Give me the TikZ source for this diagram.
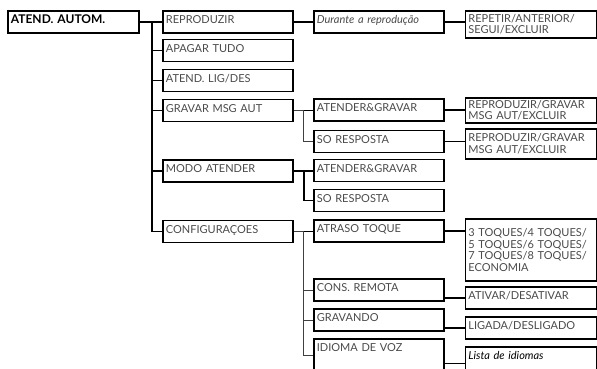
\documentclass[tikz,border=0pt]{standalone}
\usepackage{fontspec}
\setmainfont{Lato}
\definecolor{txtgrey}{HTML}{4A4A4A}

\begin{document}
\begin{tikzpicture}[x=1pt, y=-1pt,
    cell/.style={draw, line width=1.8pt, anchor=north west, inner xsep=3pt, inner ysep=0pt, align=left, text=txtgrey, font=\fontsize{11}{11.5}\selectfont},
    one/.style={cell, text width=#1, text height=13pt, text depth=9pt},
    multi/.style={cell, text width=125pt, minimum height=#1},
    link/.style={line width=1.8pt},
    thinlink/.style={line width=0.8pt, draw=black!75}]
    \useasboundingbox (0,0) rectangle (597,368);
    \clip (0,0) rectangle (597,368);
    \node[one=125pt, text=black, font=\fontsize{12}{12}\selectfont\bfseries] (root) at (7,10) {ATEND. AUTOM.};
    \node[one=124pt] (rep) at (162,10) {REPRODUZIR};
    \node[one=124pt] (apg) at (162,38.5) {APAGAR TUDO};
    \node[one=124pt] (lig) at (162,68.5) {ATEND. LIG/DES};
    \node[one=124pt] (grv) at (162,98.5) {GRAVAR MSG AUT};
    \node[one=124pt] (modo) at (162,159) {MODO ATENDER};
    \node[one=124pt] (cfg) at (162,219.5) {CONFIGURAÇOES};
    \node[one=124pt, font=\fontsize{11}{12}\selectfont\itshape] (dur) at (313,10) {Durante a reprodução};
    \node[one=124pt] (ag1) at (313,98) {ATENDER\&GRAVAR};
    \node[one=124pt] (so1) at (313,129.5) {SO RESPOSTA};
    \node[one=124pt] (ag2) at (313,158.5) {ATENDER\&GRAVAR};
    \node[one=124pt] (so2) at (313,188.5) {SO RESPOSTA};
    \node[one=124pt] (atr) at (313,219) {ATRASO TOQUE};
    \node[one=124pt] (cons) at (313,278) {CONS. REMOTA};
    \node[one=124pt] (grav) at (313,308) {GRAVANDO};
    \node[one=124pt, text depth=20pt] (idi) at (313,338) {IDIOMA DE VOZ};
    \node[multi=27pt] (rpt) at (464.5,10) {REPETIR/ANTERIOR/\\SEGUI/EXCLUIR};
    \node[multi=25pt] (rg1) at (464.5,97) {REPRODUZIR/GRAVAR\\MSG AUT/EXCLUIR};
    \node[multi=30pt] (rg2) at (464.5,128) {REPRODUZIR/GRAVAR\\MSG AUT/EXCLUIR};
    \node[multi=62pt] (toq) at (464.5,218) {3 TOQUES/4 TOQUES/\\5 TOQUES/6 TOQUES/\\7 TOQUES/8 TOQUES/\\ECONOMIA};
    \node[one=125pt] (atv) at (464.5,286) {ATIVAR/DESATIVAR};
    \node[one=125pt] (lgd) at (464.5,316) {LIGADA/DESLIGADO};
    \node[one=125pt, text depth=20pt, text=black, font=\fontsize{11}{12}\selectfont\itshape] (lst) at (464.5,346) {Lista de idiomas};
    \draw[link] (root.east) -- (rep.west);
    \foreach \n in {apg,lig,grv,modo,cfg}
        \draw[link] (root.east) -- ++(12,0) |- (\n.west);
    \draw[link] (rep.east) -- (rep.east -| dur.west);
    \draw[link] (grv.east) -- (grv.east -| ag1.west);
    \draw[thinlink] (grv.east) -- ++(10,0) |- (so1.west);
    \draw[link] (modo.east) -- (modo.east -| ag2.west);
    \draw[link] (modo.east) -- ++(10,0) |- (so2.west);
    \draw[link] (cfg.east) -- (cfg.east -| atr.west);
    \foreach \n in {cons,grav,idi}
        \draw[thinlink] (cfg.east) -- ++(10,0) |- (\n.west);
    \draw[link] (dur.east) -- (dur.east -| rpt.west);
    \draw[link] (ag1.east) -- (ag1.east -| rg1.west);
    \draw[link] (so1.east) -- (so1.east -| rg2.west);
    \draw[link] (atr.east) -- (atr.east -| toq.west);
    \draw[link] (atv.west -| cons.east) -- (atv.west);
    \draw[link] (lgd.west -| grav.east) -- (lgd.west);
    \draw[link] (lst.west -| idi.east) -- (lst.west);
\end{tikzpicture}
\end{document}
